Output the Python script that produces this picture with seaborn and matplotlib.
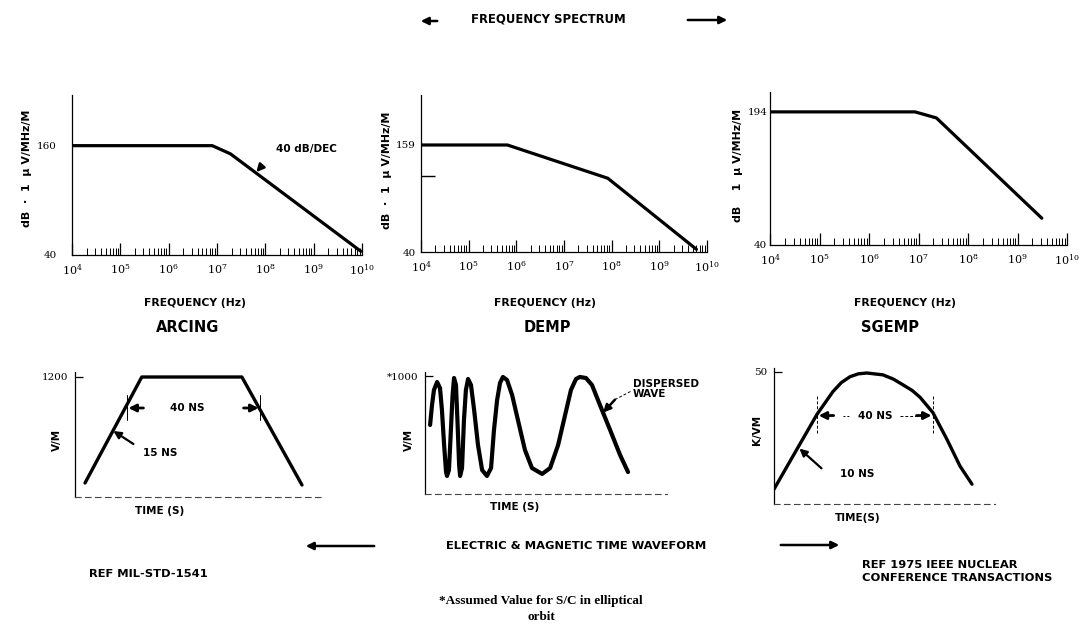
import matplotlib
matplotlib.use('Agg')
import matplotlib.pyplot as plt
import seaborn as sns
from matplotlib import font_manager
from matplotlib.ticker import LogLocator, NullFormatter, FixedLocator, LogFormatterSciNotation

sns.set_theme(style='white')
plt.rcParams['font.family'] = ['DejaVu Sans']
plt.rcParams['mathtext.fontset'] = 'dejavuserif'
plt.rcParams['text.color'] = 'black'
plt.rcParams['axes.labelcolor'] = 'black'
plt.rcParams['xtick.color'] = 'black'
plt.rcParams['ytick.color'] = 'black'

_names = {f.name for f in font_manager.fontManager.ttflist}
SANS = 'Liberation Sans Narrow' if 'Liberation Sans Narrow' in _names else 'DejaVu Sans'
NARROW = SANS != 'DejaVu Sans'
K = 1.0 if NARROW else 0.88   # size factor so widths stay similar

# ---------------- DATA ----------------
freq_ticks = [1e4, 1e5, 1e6, 1e7, 1e8, 1e9, 1e10]

arcing_freq = [1e4, 8.0e6, 1.9e7, 9.5e9]
arcing_db = [160, 160, 151, 44]
demp_freq = [1e4, 6.5e5, 8.3e7, 6.0e9]
demp_db = [159, 159, 122, 43]
sgemp_freq = [1e4, 8.5e6, 2.3e7, 3.1e9]
sgemp_db = [194, 194, 187, 71]

arcing_time = [3, 20, 50, 68]
arcing_vm = [140, 1200, 1200, 120]

demp_time = [2.1, 2.9, 3.7, 5.0, 6.2, 7.0, 7.9, 8.7, 9.1, 9.9, 10.7, 11.4, 12.0,
             12.8, 13.4, 14.1, 14.5, 15.3, 16.1, 16.9, 17.8, 19.0, 20.3, 21.9,
             23.6, 25.6, 27.3, 28.5, 29.8, 31.0, 32.2, 33.9, 36.0, 38.4, 41.3,
             44.2, 48.4, 51.7, 55.0, 57.9, 60.3, 62.4, 64.0, 66.5, 69.0, 72.3,
             76.5, 80.6, 83.9]
demp_vm = [585, 754, 881, 949, 898, 712, 415, 186, 153, 203, 542, 839, 983,
           924, 627, 246, 153, 220, 627, 881, 975, 924, 712, 415,
           203, 153, 220, 542, 797, 941, 992, 966, 839, 627, 373,
           220, 170, 220, 415, 670, 881, 975, 992, 983, 924, 754,
           542, 331, 186]

sgemp_time = [0.0, 4.1, 10.9, 19.5, 26.7, 30.5, 34.4, 38.2, 42.1, 49.3, 54.0,
              58.4, 62.5, 66.1, 71.9, 78.3, 84.2, 89.6]
sgemp_kvm = [5.6, 11.6, 21.5, 34.0, 42.6, 46.0, 48.2, 49.3, 49.6, 48.9, 47.3,
             45.1, 43.0, 40.4, 34.6, 24.4, 14.3, 7.5]

# ---------------- LAYOUT ----------------
W, H = 1083, 624
fig = plt.figure(figsize=(W / 100, H / 100), dpi=100)
fig.patch.set_facecolor('white')


def box(x0, y0, x1, y1):
    ax = fig.add_axes([x0 / W, 1 - y1 / H, (x1 - x0) / W, (y1 - y0) / H])
    ax.set_facecolor('none')
    for s in ('top', 'right'):
        ax.spines[s].set_visible(False)
    for s in ('left', 'bottom'):
        ax.spines[s].set_color('black')
        ax.spines[s].set_linewidth(0.9)
    ax.grid(False)
    return ax


def ftext(x, y, s, **kw):
    kw.setdefault('ha', 'center')
    kw.setdefault('va', 'center')
    kw.setdefault('color', 'black')
    return fig.text(x / W, 1 - y / H, s, **kw)


def farrow(x0, y0, x1, y1, lw=1.8):
    fig.add_artist(matplotlib.patches.FancyArrowPatch(
        (x0 / W, 1 - y0 / H), (x1 / W, 1 - y1 / H), transform=fig.transFigure,
        arrowstyle='-|>', mutation_scale=11, lw=lw, color='black'))


def lbl(size):
    return dict(fontsize=size * K, fontweight='bold', family=[SANS, 'DejaVu Sans'],
                color='black')


ARW = dict(arrowstyle='-|>', color='black', mutation_scale=11, shrinkA=0, shrinkB=0)

# ---------- top: frequency spectra ----------
spec = [
    ((72, 95, 362, 255), (40, 215.6), arcing_freq, arcing_db, [40, 160], 11),
    ((421, 95, 707, 252), (40, 214.6), demp_freq, demp_db, [40, 159], 4),
    ((770, 92, 1067, 245), (40, 217), sgemp_freq, sgemp_db, [40, 194], 2),
]
top_axes = []
for (bx, ylim, fx, fy, yt, ypad) in spec:
    ax = box(*bx)
    sns.lineplot(x=fx, y=fy, ax=ax, color='black', linewidth=2.3, legend=False)
    ax.set_xscale('log')
    ax.set_xlim(1e4, 1e10)
    ax.set_ylim(*ylim)
    ax.xaxis.set_major_locator(FixedLocator(freq_ticks))
    ax.xaxis.set_major_formatter(LogFormatterSciNotation())
    ax.xaxis.set_minor_locator(LogLocator(base=10, subs=range(2, 10), numticks=20))
    ax.xaxis.set_minor_formatter(NullFormatter())
    ax.tick_params(axis='x', which='major', direction='in', length=9, width=0.9,
                   labelsize=8, pad=5, bottom=True)
    ax.tick_params(axis='x', which='minor', direction='in', length=5, width=0.7, bottom=True)
    ax.set_yticks(yt)
    ax.tick_params(axis='y', which='major', length=0, pad=ypad, labelsize=7.5, left=True)
    for t in ax.get_yticklabels():
        t.set_family(['DejaVu Serif'])
    for t in ax.get_xticklabels():
        t.set_family(['DejaVu Serif'])
    ax.set_xlabel('')
    ax.set_ylabel('')
    top_axes.append(ax)

ax1, ax2, ax3 = top_axes
ax2.set_yticks([124], minor=True)
ax2.tick_params(axis='y', which='minor', direction='in', length=10, width=1.0, left=True)

ax1.annotate('40 dB/DEC', xy=(6.5e7, 131), xytext=(1.7e8, 156),
             va='center', ha='left', **lbl(8.5),
             arrowprops=dict(arrowstyle='-|>', color='black', lw=1.8,
                             mutation_scale=11, shrinkA=14, shrinkB=0,
                             relpos=(0, 0.5)))

ftext(27, 168, 'dB  ·  1  μ V/MHz/M', rotation=90, **lbl(9))
ftext(387, 170, 'dB  ·  1  μ V/MHz/M', rotation=90, **lbl(9))
ftext(738, 165, 'dB    1  μ V/MHz/M', rotation=90, **lbl(9))

for cx in (195, 545, 905):
    ftext(cx, 303, 'FREQUENCY (Hz)', **lbl(8.8))

TITLE = lbl(12)
ftext(188, 327, 'ARCING', **TITLE)
ftext(547, 327, 'DEMP', **TITLE)
ftext(890, 327, 'SGEMP', **TITLE)

# ---------- bottom: time waveforms ----------
ax4 = box(75, 372, 322, 497)
sns.lineplot(x=arcing_time, y=arcing_vm, ax=ax4, color='black', linewidth=2.4, legend=False)
ax4.set_xlim(0, 74)
ax4.set_ylim(0, 1250)
ax4.set_xticks([])
ax4.set_yticks([1200])
ax4.set_yticklabels(['1200'])

ax5 = box(425, 372, 667, 494)
sns.lineplot(x=demp_time, y=demp_vm, ax=ax5, color='black', linewidth=3.0, legend=False)
ax5.set_xlim(0, 100)
ax5.set_ylim(0, 1034)
ax5.set_xticks([])
ax5.set_yticks([1000])
ax5.set_yticklabels(['*1000'])

ax6 = box(774, 368, 995, 504)
sns.lineplot(x=sgemp_time, y=sgemp_kvm, ax=ax6, color='black', linewidth=2.4, legend=False)
ax6.set_xlim(0, 100)
ax6.set_ylim(0, 51.5)
ax6.set_xticks([])
ax6.set_yticks([50])
ax6.set_yticklabels(['50'])

for ax in (ax4, ax5, ax6):
    ax.set_xlabel('')
    ax.set_ylabel('')
    for ln in ax.get_lines():
        ln.set_solid_joinstyle('round')
        ln.set_solid_capstyle('round')
    ax.spines['bottom'].set_linestyle((0, (5, 4)))
    ax.spines['bottom'].set_linewidth(0.8)
    ax.spines['bottom'].set_color('#444444')
    ax.tick_params(axis='y', direction='in', length=6, width=0.9, pad=5, labelsize=7.5, left=True)
    for t in ax.get_yticklabels():
        t.set_family(['DejaVu Serif'])

# ARCING annotations
for tx in (15.6, 55.5):
    ax4.plot([tx, tx], [770, 1020], color='black', lw=0.7)
ax4.annotate('', xy=(16.0, 890), xytext=(20.5, 890), arrowprops=dict(lw=2.0, **ARW))
ax4.annotate('', xy=(55.0, 890), xytext=(50.5, 890), arrowprops=dict(lw=2.0, **ARW))
ax4.text(33.5, 890, '40 NS', ha='center', va='center', **lbl(8.5))
ax4.text(20.5, 440, '15 NS', ha='left', va='center', **lbl(8.5))
ax4.annotate('', xy=(11.5, 660), xytext=(17.5, 530), arrowprops=dict(lw=1.6, **ARW))

# DEMP annotations
ax5.text(86, 975, 'DISPERSED\nWAVE', ha='left', va='top', linespacing=1.0,
         clip_on=False, **lbl(8.5))
ax5.plot([78.5, 85], [800, 870], color='black', lw=0.7, ls=(0, (3, 2)), clip_on=False)
ax5.annotate('', xy=(73.6, 690), xytext=(78.5, 800), arrowprops=dict(lw=1.8, **ARW))

# SGEMP annotations
for tx in (19.5, 72.0):
    ax6.plot([tx, tx], [27, 41], color='black', lw=0.7, ls=(0, (3, 2)))
ax6.annotate('', xy=(20.2, 33.5), xytext=(27.0, 33.5), arrowprops=dict(lw=2.0, **ARW))
ax6.annotate('', xy=(71.3, 33.5), xytext=(64.5, 33.5), arrowprops=dict(lw=2.0, **ARW))
ax6.plot([31, 34], [33.5, 33.5], color='black', lw=0.7, ls=(0, (2, 2)))
ax6.plot([57, 64.5], [33.5, 33.5], color='black', lw=0.7, ls=(0, (3, 2)))
ax6.text(46, 33.5, '40 NS', ha='center', va='center', **lbl(8.5))
ax6.text(30, 11.5, '10 NS', ha='left', va='center', **lbl(8.5))
ax6.annotate('', xy=(11.5, 21), xytext=(21.5, 13.5), arrowprops=dict(lw=1.6, **ARW))

# bottom axis labels
ftext(57, 440, 'V/M', rotation=90, **lbl(8.5))
ftext(409, 440, 'V/M', rotation=90, **lbl(8.5))
ftext(757, 430, 'K/VM', rotation=90, **lbl(8.5))
ftext(160, 511, 'TIME (S)', **lbl(8.5))
ftext(515, 507, 'TIME (S)', **lbl(8.5))
ftext(858, 518, 'TIME(S)', **lbl(8.5))

# header / footer
ftext(548, 19, 'FREQUENCY SPECTRUM', **lbl(9.5))
farrow(440, 21, 418, 21)
farrow(685, 20, 730, 20)
ftext(576, 546, 'ELECTRIC & MAGNETIC TIME WAVEFORM', **lbl(9.4))
farrow(377, 546, 303, 546)
farrow(778, 545, 842, 545)
ftext(148, 574, 'REF MIL-STD-1541', **lbl(9.4))
ftext(862, 565, 'REF 1975 IEEE NUCLEAR', ha='left', **lbl(9.4))
ftext(862, 578, 'CONFERENCE TRANSACTIONS', ha='left', **lbl(9.4))
SER = dict(fontsize=9.5, fontweight='bold', family=['Liberation Serif', 'DejaVu Serif'],
           color='black')
ftext(541, 601, '*Assumed Value for S/C in elliptical', **SER)
ftext(541, 617, 'orbit', **SER)

fig.savefig('out.png', dpi=100, facecolor='white')
